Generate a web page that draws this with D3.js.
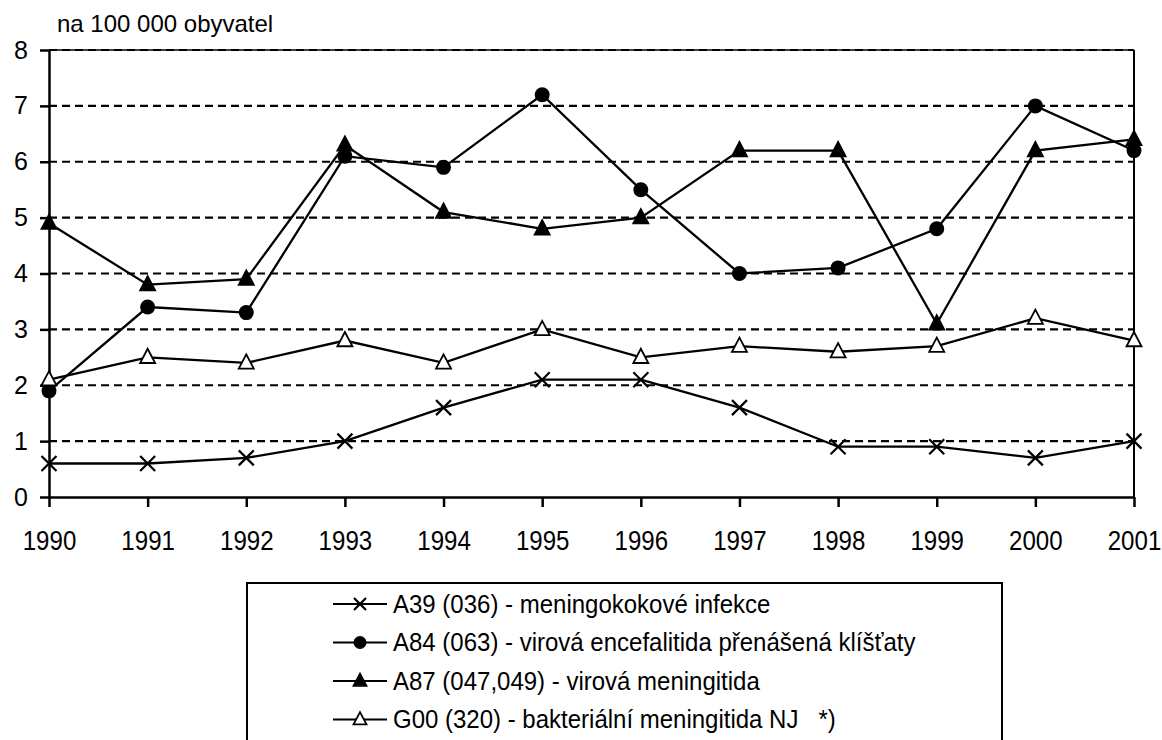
<!DOCTYPE html>
<html>
<head>
<meta charset="utf-8">
<script src="https://cdn.jsdelivr.net/npm/d3@7"></script>
<style>
  html, body { margin: 0; padding: 0; background: #fff; }
  svg { display: block; font-family: "Liberation Sans", Arial, sans-serif; }
  text { white-space: pre; }
</style>
</head>
<body>
<svg id="chart" width="1162" height="740"></svg>
<script>
const years = ["1990","1991","1992","1993","1994","1995","1996","1997","1998","1999","2000","2001"];
const yTicks = [0,1,2,3,4,5,6,7,8];
const a39 = [0.6, 0.6, 0.7, 1.0, 1.6, 2.1, 2.1, 1.6, 0.9, 0.9, 0.7, 1.0];
const a84 = [1.9, 3.4, 3.3, 6.1, 5.9, 7.2, 5.5, 4.0, 4.1, 4.8, 7.0, 6.2];
const a87 = [4.9, 3.8, 3.9, 6.3, 5.1, 4.8, 5.0, 6.2, 6.2, 3.1, 6.2, 6.4];
const g00 = [2.1, 2.5, 2.4, 2.8, 2.4, 3.0, 2.5, 2.7, 2.6, 2.7, 3.2, 2.8];
const seriesNames = [
  "A39 (036) - meningokokové infekce",
  "A84 (063) - virová encefalitida přenášená klíšťaty",
  "A87 (047,049) - virová meningitida",
  "G00 (320) - bakteriální meningitida NJ   *)"
];
const unitLabel = "na 100 000 obyvatel";

const series = [
  {name: seriesNames[0], values: a39, marker: "x"},
  {name: seriesNames[1], values: a84, marker: "circle"},
  {name: seriesNames[2], values: a87, marker: "tri"},
  {name: seriesNames[3], values: g00, marker: "triOpen"}
];

const svg = d3.select("#chart");
const plotLeft = 49, plotRight = 1134, plotTop = 50, plotBottom = 497;

const x = d3.scalePoint().domain(years).range([plotLeft, plotRight]);
const y = d3.scaleLinear().domain([0, 8]).range([plotBottom, plotTop]);

// gridlines
svg.append("g").selectAll("line")
  .data(yTicks.filter(d => d > 0))
  .join("line")
  .attr("x1", plotLeft).attr("x2", plotRight)
  .attr("y1", d => y(d)).attr("y2", d => y(d))
  .attr("stroke", "#000").attr("stroke-width", 2.2)
  .attr("stroke-dasharray", "8,5");

// top and right border
svg.append("line").attr("x1", plotLeft).attr("x2", plotRight).attr("y1", y(8)).attr("y2", y(8))
  .attr("stroke", "#000").attr("stroke-width", 1.5);
svg.append("line").attr("x1", plotRight).attr("x2", plotRight).attr("y1", y(8)).attr("y2", y(0))
  .attr("stroke", "#000").attr("stroke-width", 2);

// axes
const yAxis = svg.append("g").attr("transform", `translate(${plotLeft},0)`)
  .call(d3.axisLeft(y).tickValues(yTicks).tickSize(9).tickSizeOuter(0).tickPadding(12).tickFormat(d3.format("d")));
const xAxis = svg.append("g").attr("transform", `translate(0,${plotBottom})`)
  .call(d3.axisBottom(x).tickSize(10).tickSizeOuter(0).tickPadding(23));
[yAxis, xAxis].forEach(ax => {
  ax.select(".domain").attr("stroke", "#000").attr("stroke-width", 2.5);
  ax.selectAll(".tick line").attr("stroke", "#000").attr("stroke-width", 2.5);
  ax.selectAll(".tick text").attr("fill", "#000")
    .style("font-family", "'Liberation Sans', Arial, sans-serif");
});
yAxis.selectAll(".tick text").style("font-size", "25px");
xAxis.selectAll(".tick text").style("font-size", "28px").attr("transform", "scale(0.86,1)");

// unit label
svg.append("text").attr("x", 57).attr("y", 32)
  .style("font-size", "24px").attr("fill", "#000").text(unitLabel);

function drawMarker(g, type, size) {
  const s = size;
  if (type === "x") {
    g.append("path").attr("d", `M${-s},${-s}L${s},${s}M${-s},${s}L${s},${-s}`)
      .attr("stroke", "#000").attr("stroke-width", 2.2).attr("fill", "none");
  } else if (type === "circle") {
    g.append("circle").attr("r", s).attr("fill", "#000");
  } else {
    const h = s * 1.9;
    g.append("path")
      .attr("d", `M0,${-h*0.6}L${s},${h*0.4}L${-s},${h*0.4}Z`)
      .attr("fill", type === "tri" ? "#000" : "#fff")
      .attr("stroke", "#000").attr("stroke-width", 1.8).attr("stroke-linejoin", "miter");
  }
}

const line = d3.line().x((d, i) => x(years[i])).y(d => y(d));
const plot = svg.append("g");
series.forEach(s => {
  plot.append("path").datum(s.values).attr("d", line)
    .attr("fill", "none").attr("stroke", "#000").attr("stroke-width", 2.3);
});
series.forEach(s => {
  s.values.forEach((v, i) => {
    const g = plot.append("g").attr("transform", `translate(${x(years[i])},${y(v)})`);
    drawMarker(g, s.marker, 7.5);
  });
});

// legend
const lg = svg.append("g");
lg.append("rect").attr("x", 247).attr("y", 583).attr("width", 755).attr("height", 220)
  .attr("fill", "#fff").attr("stroke", "#000").attr("stroke-width", 2);
series.forEach((s, i) => {
  const cy = 604 + i * 38.5;
  lg.append("line").attr("x1", 333).attr("x2", 387).attr("y1", cy).attr("y2", cy)
    .attr("stroke", "#000").attr("stroke-width", 2.2);
  const g = lg.append("g").attr("transform", `translate(360,${cy})`);
  drawMarker(g, s.marker, s.marker === "x" ? 6 : 6.5);
  lg.append("text").attr("x", 393).attr("y", cy).attr("dy", "0.36em")
    .attr("xml:space", "preserve")
    .style("font-size", "25px").attr("transform", "translate(393,0) scale(0.96,1) translate(-393,0)")
    .attr("fill", "#000").text(s.name);
});
</script>
</body>
</html>
